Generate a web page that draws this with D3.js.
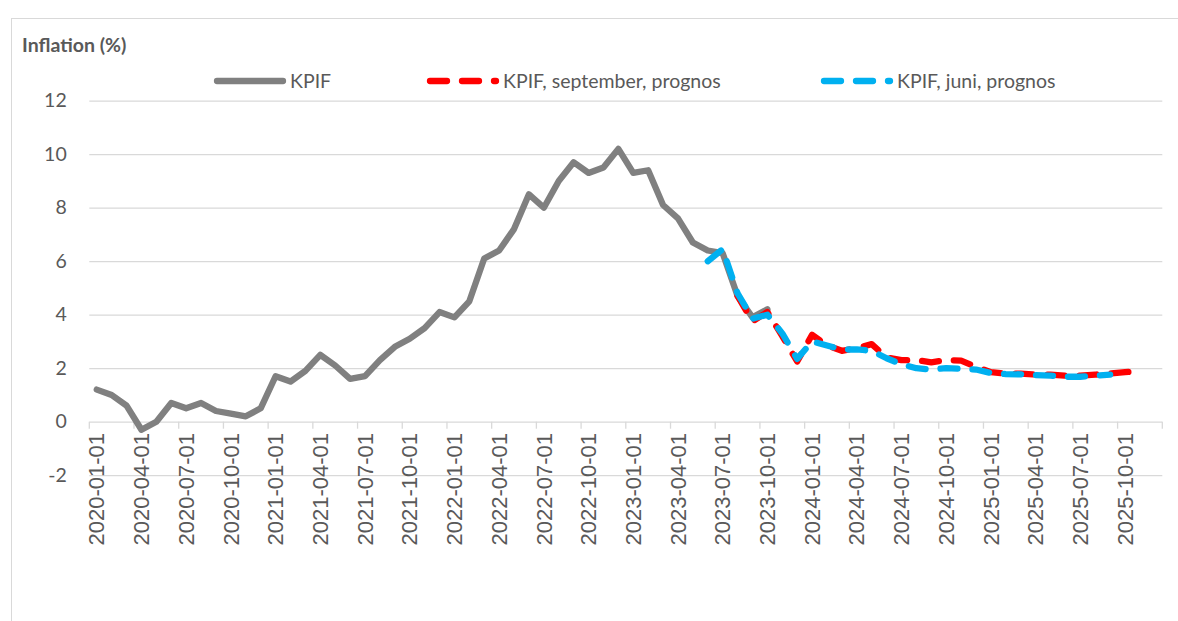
<!DOCTYPE html>
<html>
<head>
<meta charset="utf-8">
<script src="https://cdn.jsdelivr.net/npm/d3@7"></script>
<style>
  body { margin: 0; background: #fff; }
  text { fill: #595959; }
</style>
</head>
<body>
<div id="chart"></div>
<script>
var svgWidth = 1178;
var svgHeight = 621;

// monthly categories 2020-01 .. 2025-12
var months = d3.timeMonths(new Date(2020, 0, 1), new Date(2026, 0, 1))
    .map(d3.timeFormat("%Y-%m-%d"));

// KPIF outcome from 2020-01-01
var kpif = [1.2, 1.0, 0.6, -0.3, 0.0, 0.7, 0.5, 0.7, 0.4, 0.3, 0.2, 0.5,
            1.7, 1.5, 1.9, 2.5, 2.1, 1.6, 1.7, 2.3, 2.8, 3.1, 3.5, 4.1,
            3.9, 4.5, 6.1, 6.4, 7.2, 8.5, 8.0, 9.0, 9.7, 9.3, 9.5, 10.2,
            9.3, 9.4, 8.1, 7.6, 6.7, 6.4, 6.3, 4.7, 3.9, 4.2];

// September forecast
var septStart = "2023-08-01";
var kpifSept = [4.7, 3.75, 4.1, 3.2, 2.25, 3.25, 2.85, 2.65, 2.75, 2.9, 2.4, 2.3,
                2.3, 2.22, 2.3, 2.28, 2.05, 1.85, 1.8, 1.8, 1.76, 1.76, 1.72, 1.72,
                1.76, 1.8, 1.85, 1.9];

// June forecast
var juniStart = "2023-06-01";
var kpifJuni = [6.0, 6.45, 4.8, 3.85, 4.0, 3.3, 2.35, 3.0, 2.85, 2.7, 2.7, 2.65,
                2.37, 2.15, 2.0, 1.95, 2.0, 1.98, 1.95, 1.82, 1.78, 1.77, 1.74, 1.72,
                1.68, 1.68, 1.72, 1.76];

var yTicks = [-2, 0, 2, 4, 6, 8, 10, 12];
var tickLabels = months.filter((d, i) => i % 3 == 0);

var legendItems = ["KPIF", "KPIF, september, prognos", "KPIF, juni, prognos"];
var colors = ["#808080", "#FF0000", "#00B0F0"];

var left = 89.3, right = 1162.3;

var svg = d3.select("#chart").append("svg")
    .attr("width", svgWidth)
    .attr("height", svgHeight);

// chart frame
svg.append("rect")
    .attr("x", 11.5).attr("y", 18.5)
    .attr("width", 1300).attr("height", 800)
    .attr("fill", "none")
    .attr("stroke", "#D9D9D9");

var x = d3.scaleBand()
    .domain(months)
    .range([left, right])
    .padding(0);
var bw = x.bandwidth();

var y = d3.scaleLinear()
    .domain([-2, 12])
    .range([475.2, 100.7]);

// y axis with gridlines
var yAxis = svg.append("g")
    .attr("transform", `translate(${left}, 0)`)
    .call(d3.axisLeft(y).tickValues(yTicks).tickFormat(d => String(d))
        .tickSize(-(right - left)).tickPadding(22.6));
yAxis.select(".domain").remove();
yAxis.selectAll("line").attr("stroke", "#D9D9D9").attr("stroke-width", 1.3);
yAxis.selectAll("text")
    .attr("fill", "#595959")
    .style("font-family", "Lato")
    .style("font-size", "19.5px");

// x axis ticks at category boundaries
var tickPos = months.filter((d, i) => i % 3 == 0).map(d => x(d)).concat([right]);
svg.append("g").selectAll("line")
    .data(tickPos)
    .enter()
    .append("line")
    .attr("x1", d => d).attr("x2", d => d)
    .attr("y1", y(0)).attr("y2", y(0) + 7)
    .attr("stroke", "#D9D9D9")
    .attr("stroke-width", 1.3);

svg.append("g").selectAll("text")
    .data(tickLabels)
    .enter()
    .append("text")
    .attr("transform", d => `translate(${x(d) + bw / 2}, 433) rotate(-90)`)
    .attr("text-anchor", "end")
    .attr("dy", "0.35em")
    .style("font-family", "Liberation Sans")
    .style("font-size", "22px")
    .text(d => d);

// lines
function lineFor(start) {
    var i0 = months.indexOf(start);
    return d3.line()
        .x((d, i) => x(months[i0 + i]) + bw / 2)
        .y(d => y(d));
}

var series = [
    { values: kpif, start: months[0], dash: null },
    { values: kpifSept, start: septStart, dash: "17,15" },
    { values: kpifJuni, start: juniStart, dash: "17,15" }
];

series.forEach(function (s, k) {
    svg.append("path")
        .datum(s.values)
        .attr("d", lineFor(s.start))
        .attr("fill", "none")
        .attr("stroke", colors[k])
        .attr("stroke-width", 6.3)
        .attr("stroke-linejoin", "round")
        .attr("stroke-linecap", "round")
        .attr("stroke-dasharray", s.dash);
});

// title
svg.append("text")
    .attr("x", 22)
    .attr("y", 52)
    .style("font-family", "Lato")
    .style("font-weight", "bold")
    .style("font-size", "19.5px")
    .text("Inflation (%)");

// legend
var legendX = [217, 430, 824];
var legend = svg.append("g");
legendItems.forEach(function (name, k) {
    legend.append("line")
        .attr("x1", legendX[k]).attr("x2", legendX[k] + 66)
        .attr("y1", 81).attr("y2", 81)
        .attr("stroke", colors[k])
        .attr("stroke-width", 6.3)
        .attr("stroke-linecap", "round")
        .attr("stroke-dasharray", k == 0 ? null : "17,15");
    legend.append("text")
        .attr("x", legendX[k] + 73)
        .attr("y", 87.5)
        .style("font-family", "Lato")
        .style("font-size", "19.5px")
        .text(name);
});
</script>
</body>
</html>
